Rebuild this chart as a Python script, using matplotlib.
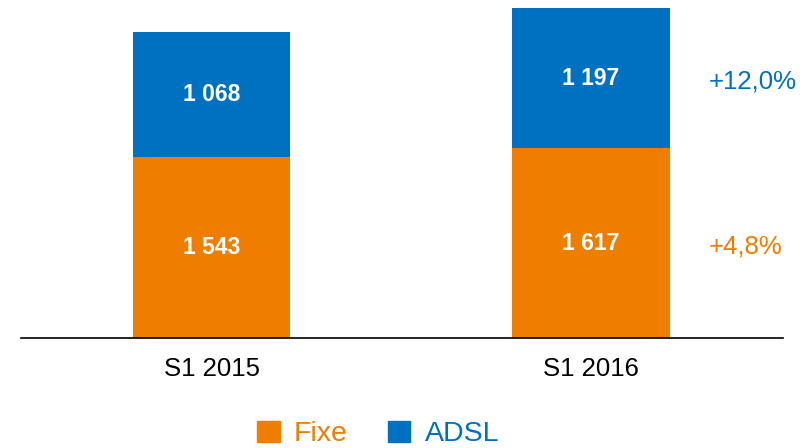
import matplotlib.pyplot as plt
import matplotlib.patches as mpatches

plt.rcParams['font.family'] = ['Liberation Sans', 'DejaVu Sans']

# data
periods = ['S1 2015', 'S1 2016']
fixe = [1543, 1617]
adsl = [1068, 1197]
fixe_labels = ['1 543', '1 617']
adsl_labels = ['1 068', '1 197']
growth_fixe = '+4,8%'
growth_adsl = '+12,0%'

orange = '#EF7D00'
blue = '#0070C0'

fig = plt.figure(figsize=(8.08, 4.48), dpi=100)
ax = fig.add_axes([21 / 808, 110 / 448, 762 / 808, 338 / 448])

x = list(range(len(periods)))
w = 0.416
ax.bar(x, fixe, width=w, color=orange)
ax.bar(x, adsl, width=w, bottom=fixe, color=blue)

for i in x:
    ax.text(i, fixe[i] / 2, fixe_labels[i], ha='center', va='center',
            color='white', fontsize=16.5, fontweight='bold')
    ax.text(i, fixe[i] + adsl[i] / 2, adsl_labels[i], ha='center', va='center',
            color='white', fontsize=16.5, fontweight='bold')

# growth annotations next to the last bar
last = x[-1]
ax.text(last + 0.31, fixe[last] / 2 - 30, growth_fixe, ha='left', va='center',
        color=orange, fontsize=18.5)
ax.text(last + 0.31, fixe[last] + adsl[last] / 2 - 25, growth_adsl, ha='left',
        va='center', color=blue, fontsize=18.5)

ax.set_xlim(-0.502, 1.506)
ax.set_ylim(0, 2883)
ax.set_xticks(x)
ax.set_xticklabels(periods, fontsize=18.5)
ax.tick_params(axis='x', length=0, pad=14)
ax.set_yticks([])
for side in ['left', 'right', 'top']:
    ax.spines[side].set_visible(False)
ax.spines['bottom'].set_linewidth(1.2)

handles = [mpatches.Patch(color=orange, label='Fixe'),
           mpatches.Patch(color=blue, label='ADSL')]
fig.legend(handles=handles, loc='center', bbox_to_anchor=(378 / 808, 1 - 434 / 448),
           ncol=2, frameon=False, fontsize=20.5, handlelength=0.8, handleheight=0.8,
           handletextpad=0.5, columnspacing=1.4, labelcolor=[orange, blue],
           borderpad=0.2)

fig.savefig('out.png', dpi=100)
